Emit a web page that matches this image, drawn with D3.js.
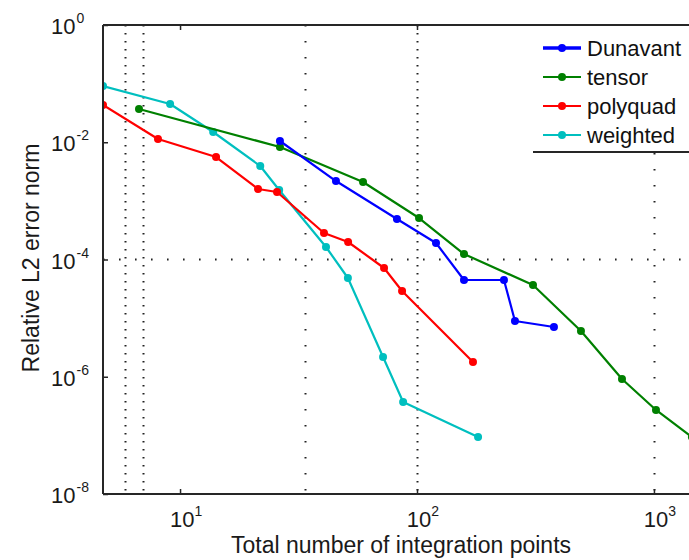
<!DOCTYPE html>
<html>
<head>
<meta charset="utf-8">
<script src="https://cdn.jsdelivr.net/npm/d3@7"></script>
<style>
  body { margin: 0; background: #fff; }
  svg { display: block; font-family: "Liberation Sans", Arial, sans-serif; }
</style>
</head>
<body>
<svg id="chart" width="689" height="560"></svg>
<script>
// Convergence of quadrature rules: relative L2 error vs. number of integration points
const seriesNames = ["Dunavant", "tensor", "polyquad", "weighted"];

const dunavantX = [26.4, 45.5, 82.3, 120.3, 157.9, 232.8, 259.1, 378.4];
const dunavantY = [0.0105, 0.00218, 4.91e-4, 1.91e-4, 4.47e-5, 4.47e-5, 8.93e-6, 7.06e-6];

const tensorX = [6.71, 26.4, 59.2, 102, 157.9, 308.7, 492, 733, 1020, 1446];
const tensorY = [0.0369, 0.0083, 0.0021, 5.1e-4, 1.24e-4, 3.67e-5, 6.03e-6, 9.15e-7, 2.71e-7, 9.38e-8];

const polyquadX = [4.73, 8.07, 14.19, 21.33, 25.66, 40.5, 51.2, 72.6, 86.5, 172.3];
const polyquadY = [0.0432, 0.01136, 0.0056, 0.001594, 0.001417, 2.83e-4, 1.988e-4, 7.16e-5, 2.9e-5, 1.785e-6];

const weightedX = [4.73, 9.08, 13.8, 21.8, 26.2, 41.3, 51.1, 71.9, 87.4, 181];
const weightedY = [0.0911, 0.0449, 0.01496, 0.00393, 0.001533, 1.634e-4, 4.835e-5, 2.172e-6, 3.71e-7, 9.38e-8];

const xTicks = [10, 100, 1000];
const yTicks = [1, 1e-2, 1e-4, 1e-6, 1e-8];
const gridXDense = [5.87, 6.98, 100];
const gridXSparse = [33.7, 1000];
const gridY = [1e-4];

const xLabel = "Total number of integration points";
const yLabel = "Relative L2 error norm";

const colors = ["#0000ff", "#008000", "#ff0000", "#00bfbf"];

const svg = d3.select("#chart");
const plotLeft = 103, plotTop = 25, plotRight = 720, plotBottom = 494;

const x = d3.scaleLog().domain([4.73, 1900]).range([plotLeft, plotRight]);
const y = d3.scaleLog().domain([1e-8, 1]).range([plotBottom, plotTop]);

svg.append("rect").attr("width", 689).attr("height", 560).attr("fill", "#fff");

svg.append("defs").append("clipPath").attr("id", "plot-clip")
  .append("rect").attr("x", plotLeft).attr("y", plotTop)
  .attr("width", plotRight - plotLeft).attr("height", plotBottom - plotTop);

// dotted grid
const grid = svg.append("g").attr("stroke", "#222").attr("stroke-width", 2);
grid.selectAll("line.gxd").data(gridXDense).join("line")
  .attr("x1", d => Math.round(x(d)) + 0.5).attr("x2", d => Math.round(x(d)) + 0.5)
  .attr("y1", plotTop).attr("y2", plotBottom)
  .attr("stroke-dasharray", "1.6,6.4");
grid.selectAll("line.gxs").data(gridXSparse).join("line")
  .attr("x1", d => Math.round(x(d)) + 0.5).attr("x2", d => Math.round(x(d)) + 0.5)
  .attr("y1", plotTop).attr("y2", plotBottom)
  .attr("stroke-dasharray", "1.6,14.4");
grid.selectAll("line.gy").data(gridY).join("line")
  .attr("x1", plotLeft).attr("x2", plotRight)
  .attr("y1", d => Math.round(y(d)) + 0.5).attr("y2", d => Math.round(y(d)) + 0.5)
  .attr("stroke-dasharray", "1.6,14.4");

// series
const seriesX = [dunavantX, tensorX, polyquadX, weightedX];
const seriesY = [dunavantY, tensorY, polyquadY, weightedY];
const series = seriesNames.map((name, i) => ({
  name, color: colors[i],
  points: seriesX[i].map((v, j) => [v, seriesY[i][j]])
}));

const line = d3.line().x(d => x(d[0])).y(d => y(d[1]));
const plot = svg.append("g").attr("clip-path", "url(#plot-clip)");
// draw in reverse so Dunavant ends on top
[3, 2, 1, 0].forEach(i => {
  const s = series[i];
  plot.append("path").datum(s.points)
    .attr("fill", "none").attr("stroke", s.color).attr("stroke-width", 2.2)
    .attr("stroke-linejoin", "round").attr("d", line);
  plot.selectAll(null).data(s.points).join("circle")
    .attr("cx", d => x(d[0])).attr("cy", d => y(d[1]))
    .attr("r", 4).attr("fill", s.color);
});

// axes
const axisColor = "#262626";
const xAxis = svg.append("g").attr("transform", `translate(0,${plotBottom})`)
  .call(d3.axisBottom(x).tickValues(xTicks).tickSize(-5).tickFormat(""));
const xAxisTop = svg.append("g").attr("transform", `translate(0,${plotTop})`)
  .call(d3.axisTop(x).tickValues(xTicks).tickSize(-5).tickFormat(""));
const yAxis = svg.append("g").attr("transform", `translate(${plotLeft},0)`)
  .call(d3.axisLeft(y).tickValues(yTicks).tickSize(-5).tickFormat(""));
[xAxis, xAxisTop, yAxis].forEach(g => {
  g.select(".domain").remove();
  g.selectAll(".tick line").attr("stroke", axisColor).attr("stroke-width", 1.5);
});
svg.append("line").attr("x1", plotLeft).attr("x2", 689).attr("y1", plotBottom).attr("y2", plotBottom)
  .attr("stroke", axisColor).attr("stroke-width", 2);
svg.append("line").attr("x1", plotLeft).attr("x2", 689).attr("y1", plotTop).attr("y2", plotTop)
  .attr("stroke", axisColor).attr("stroke-width", 2);
svg.append("line").attr("x1", plotLeft).attr("x2", plotLeft).attr("y1", plotTop).attr("y2", plotBottom)
  .attr("stroke", axisColor).attr("stroke-width", 2);

// tick labels as 10^n
const tickText = "#1a1a1a";
xTicks.forEach(v => {
  const t = svg.append("text").attr("x", x(v) + 6).attr("y", 527)
    .attr("text-anchor", "middle").attr("fill", tickText).attr("font-size", 22);
  t.append("tspan").text("10");
  t.append("tspan").attr("font-size", 14).attr("dy", -11).text(Math.round(Math.log10(v)));
});
yTicks.forEach(v => {
  const t = svg.append("text").attr("x", 51).attr("y", y(v) + 9)
    .attr("text-anchor", "start").attr("fill", tickText).attr("font-size", 22);
  t.append("tspan").text("10");
  t.append("tspan").attr("font-size", 14).attr("dy", -11).attr("dx", 1).text(Math.round(Math.log10(v)));
});

// axis titles
svg.append("text").attr("x", 401).attr("y", 553).attr("text-anchor", "middle")
  .attr("font-size", 23).attr("fill", tickText).text(xLabel);
svg.append("text").attr("transform", "translate(39,258) rotate(-90)")
  .attr("text-anchor", "middle").attr("font-size", 23).attr("fill", tickText).text(yLabel);

// legend
const lg = svg.append("g");
lg.append("rect").attr("x", 533).attr("y", 26).attr("width", 160).attr("height", 126).attr("fill", "#fff");
lg.append("line").attr("x1", 533).attr("x2", 689).attr("y1", 152).attr("y2", 152)
  .attr("stroke", axisColor).attr("stroke-width", 2);
series.forEach((s, i) => {
  const yy = 48 + i * 29;
  lg.append("line").attr("x1", 543).attr("x2", 581).attr("y1", yy).attr("y2", yy)
    .attr("stroke", s.color).attr("stroke-width", i === 0 ? 3.5 : 2.2);
  lg.append("circle").attr("cx", 562).attr("cy", yy).attr("r", 4).attr("fill", s.color);
  lg.append("text").attr("x", 587).attr("y", yy + 8).attr("font-size", 22)
    .attr("fill", "#111").text(s.name);
});
</script>
</body>
</html>
